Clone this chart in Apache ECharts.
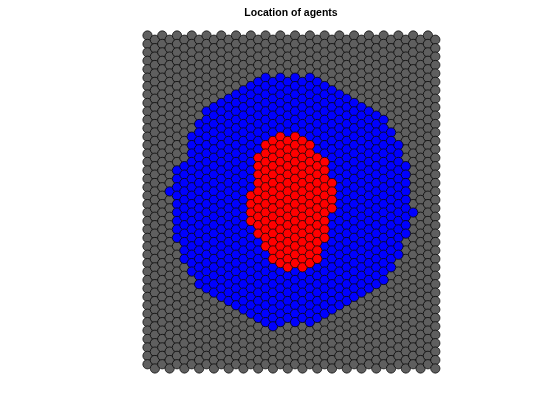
<!DOCTYPE html>
<html>
<head>
<meta charset="utf-8">
<script src="https://cdn.jsdelivr.net/npm/echarts@6/dist/echarts.min.js"></script>
<style>html,body{margin:0;padding:0;background:#fff}#c{width:560px;height:420px}</style>
</head>
<body>
<div id="c"></div>
<script>
// Hex lattice: 40 columns x 40 rows, odd columns shifted down half a row
const nCols = 40;
const nRows = 40;
// Per-column row ranges (inclusive); null = none
const blueTop    = [null,null,null,18,16,15,12,10,9,8,8,7,7,6,6,5,5,5,5,5,5,5,5,5,6,6,7,7,8,8,9,9,10,11,13,15,21,null,null,null];
const blueBottom = [null,null,null,18,24,26,28,29,30,30,31,31,32,32,33,33,34,34,34,33,34,33,34,33,33,32,32,31,31,30,30,29,29,27,26,23,21,null,null,null];
const redCols    = [14,15,16,17,18,19,20,21,22,23,24,25];
const redTop     = [19,14,13,12,12,12,12,12,13,14,15,17];
const redBottom  = [22,23,25,26,27,27,27,27,27,26,24,20];
const titleText = 'Location of agents';

const grey = [], blue = [], red = [];
for (let c = 0; c < nCols; c++) {
  const ri = redCols.indexOf(c);
  for (let r = 0; r < nRows; r++) {
    const pt = [c, r + (c % 2) * 0.5];
    if (ri >= 0 && r >= redTop[ri] && r <= redBottom[ri]) red.push(pt);
    else if (blueTop[c] !== null && r >= blueTop[c] && r <= blueBottom[c]) blue.push(pt);
    else grey.push(pt);
  }
}

const pxCol = 7.38, pxRow = 8.43;
const xMin = -0.6, xMax = 39.6, yMin = -0.55, yMax = 40.05;
const chart = echarts.init(document.getElementById('c'), null, {renderer: 'canvas'});
const sym = (color) => ({type: 'scatter', symbol: 'circle', symbolSize: 9.3, animation: false,
  itemStyle: {color: color, borderColor: '#000', borderWidth: 0.7, opacity: 1}});
chart.setOption({
  animation: false,
  graphic: [{type: 'text', x: 291, y: 13, silent: true,
    style: {text: titleText, textAlign: 'center', textVerticalAlign: 'middle',
      font: 'bold 10.5px "Liberation Sans", Arial, sans-serif', fill: '#000'}}],
  grid: {left: 147.5 + xMin * pxCol, top: 35.5 + yMin * pxRow,
         width: (xMax - xMin) * pxCol, height: (yMax - yMin) * pxRow},
  xAxis: {type: 'value', min: xMin, max: xMax, show: false},
  yAxis: {type: 'value', min: yMin, max: yMax, inverse: true, show: false},
  series: [
    Object.assign(sym('#5f5f5f'), {data: grey}),
    Object.assign(sym('#0000ff'), {data: blue}),
    Object.assign(sym('#ff0000'), {data: red})
  ]
});
</script>
</body>
</html>
